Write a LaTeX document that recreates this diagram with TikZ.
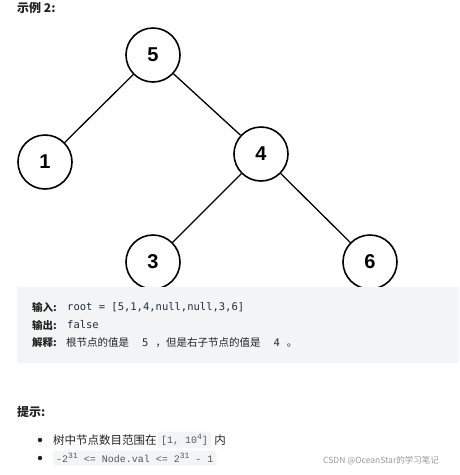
\documentclass[tikz,border=0pt]{standalone}
\usepackage{fontspec}
\setmainfont{Noto Sans CJK SC}
\newfontfamily\digitfont{Liberation Sans}
\newfontfamily\codefont{DejaVu Sans Mono}
\newfontfamily\hintfont{Liberation Mono}
\usetikzlibrary{positioning}
\definecolor{boxgray}{HTML}{F3F4F5}
\definecolor{codeink}{HTML}{1F2D3D}
\definecolor{ink}{HTML}{222222}
\newcommand{\hsup}[1]{\raisebox{3.5pt}{\fontsize{8}{9}\selectfont #1}}

\begin{document}
\begin{tikzpicture}[x=1pt,y=-1pt,
  treenode/.style={circle,draw,line width=1.6pt,minimum size=54pt,inner sep=0pt,
    font=\digitfont\bfseries\fontsize{20}{24}\selectfont},
  edge/.style={line width=1.3pt},
  heading/.style={anchor=west,inner sep=0pt,text=ink,font=\bfseries\fontsize{12}{14}\selectfont},
  keytext/.style={anchor=west,inner sep=0pt,text=ink,font=\bfseries\fontsize{10.5}{12}\selectfont},
  plaintext/.style={anchor=west,inner sep=0pt,text=ink,font=\fontsize{10.5}{12}\selectfont},
  codetext/.style={anchor=west,inner sep=0pt,text=codeink,font=\codefont\fontsize{10.5}{12}\selectfont},
  hinttext/.style={anchor=west,inner sep=0pt,text=ink,font=\fontsize{11.5}{14}\selectfont},
  hintcode/.style={anchor=west,fill=boxgray,rounded corners=2pt,inner xsep=3pt,inner ysep=3pt,
    text=black!65,font=\hintfont\fontsize{10}{12}\selectfont},
  dot/.style={circle,fill=ink,inner sep=0pt,minimum size=4.5pt},
  watermark/.style={anchor=west,inner sep=0pt,text=black!40,font=\fontsize{8.5}{10}\selectfont}]
  \useasboundingbox (0,0) rectangle (459,475);

  % the tree
  \node[treenode] (n5) at (153,55) {5};
  \node[treenode] (n1) at (45,162) {1};
  \node[treenode] (n4) at (261,154) {4};
  \node[treenode] (n3) at (153,262) {3};
  \node[treenode] (n6) at (370,262) {6};

  \draw[edge] (n5) -- (n1);
  \draw[edge] (n5) -- (n4);
  \draw[edge] (n4) -- (n3);
  \draw[edge] (n4) -- (n6);

  \node[heading] (title) at (17,8) {示例 2:};

  % input / output box
  \fill[boxgray,rounded corners=2pt] (17,287) rectangle (459,363);
  \node[keytext] (inkey) at (32,307) {输入:};
  \node[codetext] (inval) at (67,307) {root = [5,1,4,null,null,3,6]};
  \node[keytext] (outkey) at (32,325) {输出:};
  \node[codetext] (outval) at (67,325) {false};
  \node[keytext] (whykey) at (32,343) {解释:};
  \node[plaintext] (whyval) at (66,343)
    {根节点的值是\hspace{13pt}{\codefont\color{codeink}5}\hspace{7pt}，但是右子节点的值是\hspace{13pt}{\codefont\color{codeink}4}\hspace{7pt}。};

  % hints
  \node[heading] (hints) at (17,412) {提示:};
  \node[dot] (b1) at (40,440) {};
  \node[dot] (b2) at (40,458) {};
  \node[hinttext] (h1) at (53,440) {树中节点数目范围在};
  \node[hintcode,right=1pt of h1] (h1c) {[1, 10\hsup{4}]};
  \node[hinttext,right=3pt of h1c] (h1e) {内};
  \node[hintcode] (h2c) at (53,458)
    {-2\hsup{31} <= Node.val <= 2\hsup{31} - 1};

  \node[watermark] (csdn) at (323,461) {CSDN @OceanStar的学习笔记};
\end{tikzpicture}
\end{document}
